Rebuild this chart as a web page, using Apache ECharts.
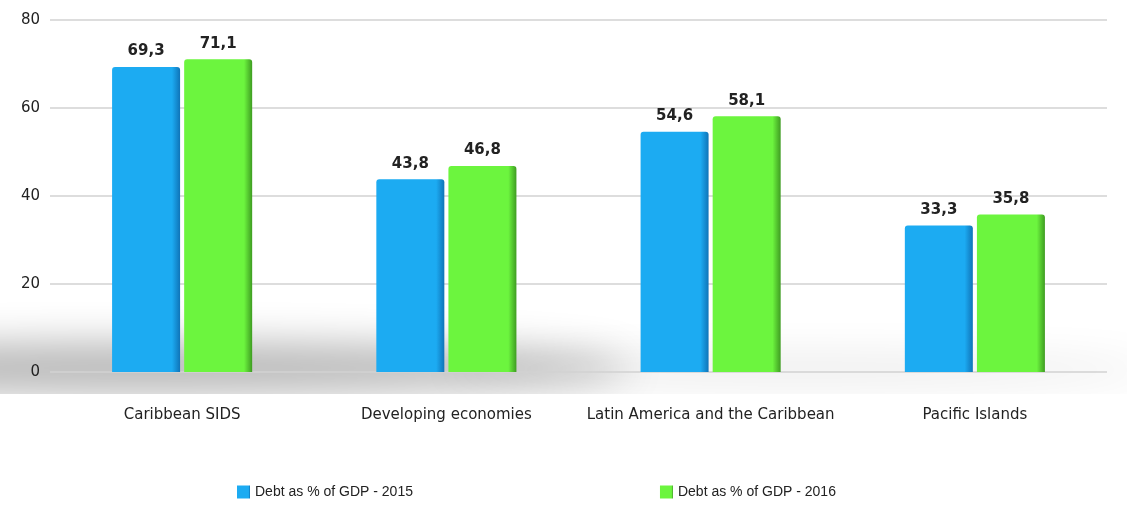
<!DOCTYPE html>
<html>
<head>
<meta charset="utf-8">
<script src="https://cdn.jsdelivr.net/npm/echarts@6/dist/echarts.min.js"></script>
<style>
  * { margin: 0; padding: 0; }
  html, body { background: #fff; }
  #main { width: 1127px; height: 510px; }
</style>
</head>
<body>
<div id="main"></div>
<script>
// data
var categories = ['Caribbean SIDS', 'Developing economies', 'Latin America and the Caribbean', 'Pacific Islands']
var debt2015 = [69.3, 43.8, 54.6, 33.3]
var debt2016 = [71.1, 46.8, 58.1, 35.8]
var seriesNames = ['Debt as % of GDP - 2015', 'Debt as % of GDP - 2016']

var myChart = echarts.init(document.getElementById('main'))

function commaLabel (p) {
  return p.value.toFixed(1).replace('.', ',')
}

function barColor (light, dark) {
  return new echarts.graphic.LinearGradient(0, 0, 1, 0, [
    { offset: 0, color: light },
    { offset: 0.88, color: light },
    { offset: 1, color: dark }
  ])
}

var valueLabel = {
  show: true,
  position: 'top',
  distance: 8,
  fontFamily: 'DejaVu Sans',
  fontSize: 15,
  fontWeight: 'bold',
  color: '#222',
  formatter: commaLabel
}

var option = {
  backgroundColor: '#fff',
  textStyle: { fontFamily: 'DejaVu Sans, sans-serif' },
  animation: false,
  grid: { left: 50, right: 20, top: 20, bottom: 138 },
  // soft floor shadow: the shapes sit off screen, only their blurred shadows show
  graphic: [{
    type: 'ellipse',
    z: -10,
    silent: true,
    shape: { cx: 150, cy: -600, rx: 480, ry: 24 },
    style: {
      fill: '#000',
      shadowColor: 'rgba(0,0,0,0.3)',
      shadowBlur: 40,
      shadowOffsetY: 968
    }
  }, {
    type: 'ellipse',
    z: -10,
    silent: true,
    shape: { cx: 800, cy: -600, rx: 360, ry: 14 },
    style: {
      fill: '#000',
      shadowColor: 'rgba(0,0,0,0.09)',
      shadowBlur: 40,
      shadowOffsetY: 970
    }
  }, {
    // crisp lower edge of the floor shadow
    type: 'rect',
    z: -9,
    silent: true,
    shape: { x: 0, y: 394, width: 1127, height: 80 },
    style: { fill: '#fff' }
  }],
  legend: {
    bottom: 6,
    left: 232,
    itemWidth: 13,
    itemHeight: 13,
    itemGap: 247,
    icon: 'rect',
    textStyle: { fontFamily: 'Liberation Sans', fontSize: 14, color: '#222' },
    data: seriesNames
  },
  xAxis: {
    type: 'category',
    data: categories,
    axisLine: { show: false },
    axisTick: { show: false },
    axisLabel: { margin: 36, fontSize: 15, color: '#222', interval: 0 }
  },
  yAxis: {
    type: 'value',
    min: 0,
    max: 80,
    interval: 20,
    axisLine: { show: false },
    axisTick: { show: false },
    axisLabel: { margin: 10, fontSize: 15, color: '#222' },
    splitLine: { lineStyle: { color: '#d2d2d2', width: 1.5 } }
  },
  series: [{
    name: seriesNames[0],
    type: 'bar',
    data: debt2015,
    barWidth: 68,
    barGap: '6%',
    itemStyle: { color: barColor('#1cabf2', '#0f74b8'), borderRadius: [3, 3, 0, 0] },
    label: valueLabel
  }, {
    name: seriesNames[1],
    type: 'bar',
    data: debt2016,
    barWidth: 68,
    itemStyle: { color: barColor('#6cf53e', '#3f9c22'), borderRadius: [3, 3, 0, 0] },
    label: valueLabel
  }]
}

myChart.setOption(option)
</script>
</body>
</html>
